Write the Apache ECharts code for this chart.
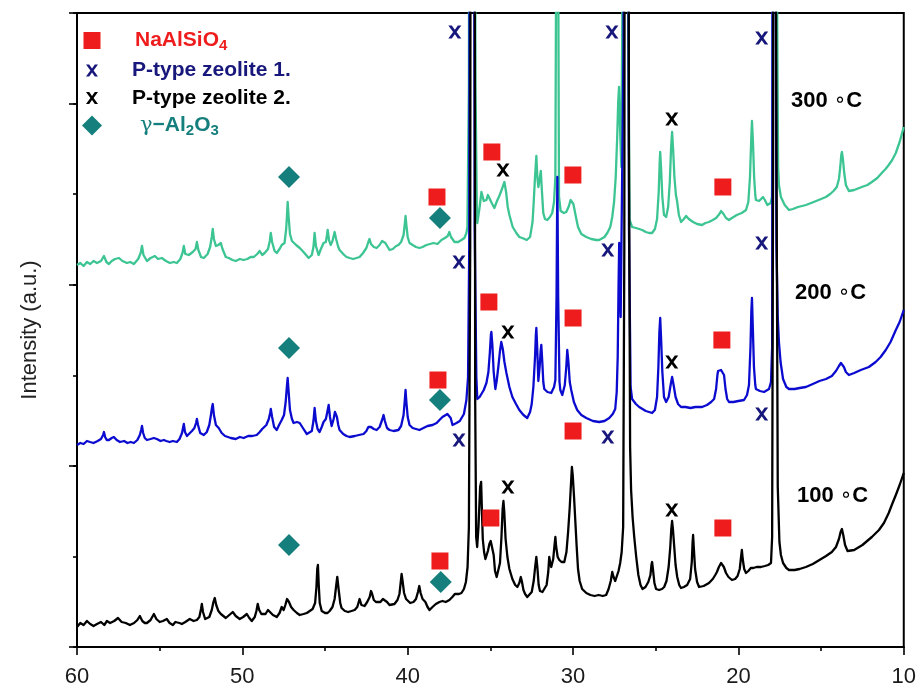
<!DOCTYPE html>
<html>
<head>
<meta charset="utf-8">
<script src="https://cdn.jsdelivr.net/npm/echarts@6/dist/echarts.min.js"></script>
<style>
  html, body { margin: 0; padding: 0; background: #fff; }
  #chart { width: 919px; height: 689px; }
</style>
</head>
<body>
<div id="chart"></div>
<script>
// XRD patterns: [2θ (deg), intensity (a.u.)]
const trace300 = [
  [60.00,382],[59.80,384],[59.60,381],[59.40,385],[59.20,383],[59.00,386],[58.79,384],[58.55,386],
  [58.37,391],[58.22,385],[58.07,383],[57.90,386],[57.70,388],[57.46,389],[57.25,386],[56.98,384],
  [56.78,385],[56.56,383],[56.30,388],[56.15,394],[56.07,401],[55.98,392],[55.77,386],[55.55,389],
  [55.29,391],[55.10,388],[54.87,389],[54.62,386],[54.38,384],[54.15,385],[53.96,384],[53.75,388],
  [53.62,394],[53.54,401],[53.45,393],[53.24,392],[53.00,395],[52.83,398],[52.75,405],[52.66,397],
  [52.50,390],[52.33,389],[52.10,393],[51.95,400],[51.85,410],[51.79,418],[51.72,408],[51.60,401],
  [51.45,402],[51.30,404],[51.20,398],[51.00,390],[50.82,389],[50.60,387],[50.40,386],[50.15,388],
  [49.92,387],[49.70,388],[49.50,390],[49.31,390],[49.10,393],[48.95,396],[48.80,392],[48.65,394],
  [48.45,398],[48.34,406],[48.28,414],[48.20,405],[48.05,396],[47.92,394],[47.75,398],[47.62,402],
  [47.45,404],[47.35,418],[47.30,432],[47.26,445],[47.20,430],[47.12,413],[47.00,406],[46.90,404],
  [46.75,402],[46.53,399],[46.30,395],[45.99,389],[45.80,392],[45.70,400],[45.63,414],[45.55,401],
  [45.39,392],[45.25,398],[45.09,404],[44.95,405],[44.88,412],[44.84,417],[44.76,407],[44.66,402],
  [44.55,406],[44.42,415],[44.33,408],[44.20,400],[44.12,397],[43.90,393],[43.70,390],[43.51,389],
  [43.30,388],[43.10,389],[42.91,390],[42.70,394],[42.50,399],[42.38,405],[42.31,408],[42.22,403],
  [42.05,400],[41.88,399],[41.70,402],[41.55,406],[41.46,408],[41.35,404],[41.10,397],[40.90,398],
  [40.70,401],[40.56,402],[40.40,405],[40.25,412],[40.17,424],[40.13,431],[40.08,422],[40.00,410],
  [39.89,404],[39.70,402],[39.50,400],[39.29,399],[39.10,400],[38.87,402],[38.65,403],[38.44,404],
  [38.20,403],[37.96,407],[37.75,409],[37.58,411],[37.48,415],[37.38,410],[37.17,405],[36.95,405],
  [36.75,407],[36.57,409],[36.45,414],[36.39,420],[36.30,560],[36.22,1500],[36.05,1500],[35.90,560],
  [35.82,440],[35.79,424],[35.65,440],[35.54,455],[35.40,446],[35.24,447],[35.15,452],[35.06,453],
  [34.92,444],[34.76,439],[34.60,446],[34.46,451],[34.30,458],[34.15,465],[34.05,455],[33.95,440],
  [33.85,432],[33.65,420],[33.43,414],[33.25,410],[33.07,409],[32.80,407],[32.60,410],[32.45,425],
  [32.38,445],[32.30,470],[32.22,491],[32.16,470],[32.10,460],[32.02,468],[31.95,476],[31.88,455],
  [31.80,434],[31.70,428],[31.56,427],[31.40,430],[31.26,434],[31.15,445],[31.07,470],[31.02,700],
  [30.96,1500],[30.90,700],[30.85,450],[30.75,436],[30.55,434],[30.41,435],[30.25,441],[30.15,447],
  [30.08,446],[29.98,443],[29.85,432],[29.70,420],[29.50,413],[29.20,410],[28.90,408],[28.60,407],
  [28.42,407],[28.10,410],[27.93,414],[27.75,420],[27.63,430],[27.52,445],[27.42,470],[27.33,510],
  [27.27,545],[27.22,560],[27.16,520],[27.08,480],[27.02,480],[26.92,900],[26.86,1500],[26.74,1500],
  [26.66,600],[26.58,427],[26.43,420],[26.20,419],[26.00,418],[25.82,417],[25.60,415],[25.40,414],
  [25.22,414],[25.05,418],[24.92,428],[24.82,455],[24.76,485],[24.73,495],[24.68,480],[24.60,450],
  [24.50,432],[24.37,430],[24.25,440],[24.15,465],[24.07,500],[24.01,515],[23.95,498],[23.87,470],
  [23.78,452],[23.71,446],[23.60,432],[23.47,425],[23.30,428],[23.16,431],[23.00,428],[22.74,425],
  [22.50,423],[22.20,422],[22.00,424],[21.78,425],[21.55,427],[21.35,429],[21.15,433],[21.05,436],
  [20.99,436],[20.90,433],[20.75,429],[20.57,427],[20.39,429],[20.10,432],[19.80,434],[19.54,437],
  [19.40,445],[19.30,470],[19.22,510],[19.18,526],[19.12,505],[19.05,470],[18.98,452],[18.94,447],
  [18.75,446],[18.51,450],[18.40,447],[18.25,442],[18.15,440],[18.05,444],[17.97,450],[17.90,700],
  [17.85,1500],[17.75,1500],[17.68,700],[17.60,480],[17.55,462],[17.48,455],[17.43,450],[17.20,442],
  [16.94,437],[16.70,438],[16.40,440],[16.15,441],[15.92,442],[15.60,444],[15.30,446],[15.00,448],
  [14.71,450],[14.45,453],[14.25,456],[14.05,460],[13.92,468],[13.84,480],[13.78,492],[13.74,495],
  [13.68,488],[13.60,474],[13.50,462],[13.32,456],[13.00,457],[12.54,460],[12.20,462],[11.93,465],
  [11.60,469],[11.33,474],[11.10,478],[10.91,482],[10.70,487],[10.48,494],[10.25,505],[10.00,520]
];

const trace200 = [
  [60.00,202],[59.80,204],[59.60,203],[59.40,206],[59.21,205],[59.00,204],[58.75,206],[58.55,208],
  [58.42,212],[58.37,215],[58.30,210],[58.20,207],[58.07,207],[57.90,209],[57.77,210],[57.60,207],
  [57.40,205],[57.15,206],[56.95,204],[56.75,205],[56.56,204],[56.35,207],[56.20,212],[56.12,217],
  [56.07,221],[56.00,214],[55.90,209],[55.77,207],[55.55,208],[55.35,209],[55.17,208],[54.95,206],
  [54.75,207],[54.60,206],[54.40,205],[54.20,206],[53.96,205],[53.80,208],[53.65,214],[53.54,223],
  [53.47,215],[53.35,211],[53.24,212],[53.05,216],[52.90,219],[52.80,224],[52.75,228],[52.68,222],
  [52.55,214],[52.33,212],[52.15,215],[52.00,222],[51.90,232],[51.83,240],[51.79,243],[51.72,232],
  [51.60,222],[51.43,219],[51.25,214],[51.05,211],[50.94,210],[50.70,209],[50.40,208],[50.15,210],
  [49.92,209],[49.65,211],[49.40,211],[49.13,212],[48.95,215],[48.80,218],[48.71,219],[48.55,222],
  [48.40,228],[48.32,234],[48.28,238],[48.20,230],[48.08,220],[47.92,217],[47.78,222],[47.62,227],
  [47.48,232],[47.38,245],[47.31,260],[47.26,269],[47.20,255],[47.12,237],[47.00,228],[46.90,224],
  [46.70,225],[46.53,224],[46.30,218],[46.10,213],[45.99,212],[45.80,216],[45.70,226],[45.63,239],
  [45.55,226],[45.45,218],[45.33,215],[45.20,220],[45.09,225],[44.95,228],[44.85,236],[44.78,242],
  [44.70,230],[44.60,221],[44.48,228],[44.40,235],[44.36,237],[44.28,230],[44.20,222],[44.12,217],
  [43.90,213],[43.70,211],[43.51,210],[43.20,211],[42.95,212],[42.67,213],[42.50,216],[42.38,220],
  [42.31,222],[42.22,220],[42.05,218],[41.88,217],[41.70,220],[41.55,227],[41.46,232],[41.38,226],
  [41.25,219],[41.10,217],[40.85,216],[40.56,217],[40.40,221],[40.25,232],[40.17,248],[40.13,257],
  [40.08,245],[40.00,230],[39.89,222],[39.70,219],[39.50,218],[39.29,217],[39.05,219],[38.80,221],
  [38.50,222],[38.25,224],[38.08,227],[37.90,230],[37.78,232],[37.60,233],[37.48,235],[37.40,229],
  [37.29,222],[37.05,224],[36.85,226],[36.75,227],[36.60,233],[36.45,247],[36.35,270],[36.28,400],
  [36.20,1500],[36.05,1500],[35.95,420],[35.85,270],[35.79,248],[35.65,250],[35.54,252],[35.40,257],
  [35.24,264],[35.12,275],[35.03,295],[34.97,312],[34.94,315],[34.88,302],[34.80,275],[34.70,258],
  [34.62,266],[34.52,280],[34.42,296],[34.34,305],[34.25,298],[34.15,285],[34.03,274],[33.85,260],
  [33.67,250],[33.45,243],[33.25,237],[33.00,232],[32.77,229],[32.60,235],[32.50,243],[32.40,260],
  [32.30,290],[32.25,312],[32.22,319],[32.17,300],[32.10,266],[32.02,280],[31.96,296],[31.92,302],
  [31.86,285],[31.80,265],[31.74,258],[31.55,255],[31.32,254],[31.15,260],[31.07,267],[31.00,350],
  [30.95,470],[30.90,350],[30.82,265],[30.77,257],[30.65,252],[30.50,262],[30.41,280],[30.35,297],
  [30.28,285],[30.20,265],[30.11,257],[29.95,245],[29.75,237],[29.50,232],[29.20,229],[28.80,226],
  [28.42,225],[28.10,226],[27.81,229],[27.60,233],[27.45,238],[27.36,255],[27.30,290],[27.25,360],
  [27.21,404],[27.17,370],[27.12,330],[27.05,330],[26.95,600],[26.88,1500],[26.73,1500],[26.62,420],
  [26.52,260],[26.43,248],[26.20,243],[26.00,240],[25.80,238],[25.60,236],[25.40,235],[25.22,234],
  [25.05,237],[24.92,250],[24.84,280],[24.78,315],[24.73,329],[24.68,310],[24.60,275],[24.50,250],
  [24.37,245],[24.22,250],[24.10,262],[24.01,270],[23.92,262],[23.80,250],[23.65,243],[23.47,240],
  [23.20,240],[22.90,239],[22.60,240],[22.20,240],[21.90,242],[21.65,245],[21.47,248],[21.35,258],
  [21.27,272],[21.23,276],[21.15,274],[21.05,277],[20.95,276],[20.87,272],[20.78,258],[20.68,248],
  [20.57,245],[20.30,245],[20.00,246],[19.66,247],[19.48,252],[19.36,262],[19.27,300],[19.22,335],
  [19.18,349],[19.13,320],[19.06,280],[18.98,262],[18.94,258],[18.70,256],[18.45,255],[18.33,255],
  [18.15,258],[18.03,265],[17.96,300],[17.90,1500],[17.78,1500],[17.70,400],[17.62,330],[17.55,305],
  [17.45,285],[17.30,268],[17.10,260],[16.94,258],[16.60,258],[16.30,259],[15.92,260],[15.50,263],
  [15.10,266],[14.70,268],[14.35,271],[14.10,276],[13.92,281],[13.80,284],[13.74,284],[13.62,280],
  [13.50,275],[13.32,272],[13.00,274],[12.60,277],[12.11,280],[11.70,285],[11.40,290],[11.09,297],
  [10.80,305],[10.48,317],[10.25,325],[10.00,337]
];

const trace100 = [
  [60.00,20],[59.80,24],[59.60,22],[59.40,26],[59.20,23],[59.00,21],[58.79,23],[58.55,25],
  [58.35,22],[58.19,26],[58.00,24],[57.75,26],[57.52,29],[57.30,25],[57.05,24],[56.80,22],
  [56.55,24],[56.35,27],[56.20,31],[56.05,26],[55.90,24],[55.77,24],[55.55,27],[55.35,33],
  [55.20,28],[55.00,25],[54.80,26],[54.57,28],[54.40,24],[54.20,22],[54.05,25],[53.96,27],
  [53.80,24],[53.66,23],[53.45,25],[53.18,28],[52.95,26],[52.75,27],[52.60,30],[52.50,38],
  [52.45,43],[52.38,35],[52.25,28],[52.15,27],[52.00,30],[51.85,37],[51.75,45],[51.67,49],
  [51.58,42],[51.45,36],[51.30,33],[51.18,32],[51.00,29],[50.88,30],[50.72,33],[50.58,35],
  [50.40,31],[50.16,28],[49.95,30],[49.73,33],[49.58,29],[49.43,26],[49.25,30],[49.15,36],
  [49.07,43],[48.98,37],[48.85,33],[48.77,35],[48.60,33],[48.45,37],[48.35,36],[48.15,32],
  [47.92,30],[47.75,34],[47.62,40],[47.50,37],[47.40,42],[47.30,48],[47.26,50],[47.18,45],
  [47.05,40],[46.90,37],[46.70,34],[46.53,32],[46.30,33],[46.10,34],[45.99,35],[45.75,38],
  [45.60,44],[45.52,60],[45.47,78],[45.43,82],[45.38,62],[45.32,44],[45.20,36],[45.00,34],
  [44.85,34],[44.72,36],[44.55,40],[44.42,48],[44.32,62],[44.26,70],[44.18,58],[44.08,44],
  [44.00,39],[43.80,36],[43.60,35],[43.40,36],[43.21,37],[43.05,40],[42.91,48],[42.80,42],
  [42.70,40],[42.61,41],[42.45,45],[42.30,50],[42.22,56],[42.15,53],[42.05,47],[41.92,45],
  [41.82,44],[41.65,45],[41.50,48],[41.40,48],[41.25,45],[41.10,42],[40.98,40],[40.80,43],
  [40.62,47],[40.50,53],[40.42,65],[40.37,73],[40.31,66],[40.22,54],[40.10,48],[40.01,47],
  [39.85,44],[39.65,45],[39.50,48],[39.38,55],[39.30,61],[39.22,54],[39.10,48],[38.93,45],
  [38.80,40],[38.68,37],[38.50,40],[38.30,43],[38.08,45],[37.90,46],[37.70,45],[37.48,47],
  [37.30,50],[37.15,53],[37.05,52],[36.90,53],[36.75,54],[36.60,58],[36.48,65],[36.38,80],
  [36.30,120],[36.22,400],[36.16,1500],[35.98,1500],[35.92,250],[35.86,110],[35.80,100],[35.72,120],
  [35.62,160],[35.56,165],[35.50,130],[35.46,108],[35.38,95],[35.30,88],[35.24,90],[35.15,96],
  [35.06,103],[34.98,106],[34.88,107],[34.80,92],[34.72,76],[34.62,70],[34.52,70],[34.42,84],
  [34.33,110],[34.26,138],[34.21,146],[34.16,135],[34.08,108],[33.97,90],[33.85,78],[33.67,68],
  [33.50,62],[33.37,60],[33.25,64],[33.16,70],[33.10,66],[33.00,57],[32.90,53],[32.77,50],
  [32.65,50],[32.50,55],[32.38,66],[32.28,82],[32.22,90],[32.16,80],[32.08,62],[32.00,56],
  [31.85,55],[31.74,57],[31.60,62],[31.50,75],[31.44,90],[31.38,84],[31.32,80],[31.20,88],
  [31.12,102],[31.07,110],[31.02,100],[30.93,90],[30.83,87],[30.70,85],[30.53,85],[30.40,95],
  [30.30,115],[30.20,140],[30.12,165],[30.07,180],[30.02,172],[29.94,150],[29.86,125],[29.78,100],
  [29.70,78],[29.60,66],[29.45,58],[29.20,54],[28.95,52],[28.70,51],[28.45,52],[28.20,51],
  [28.00,52],[27.85,58],[27.72,66],[27.63,75],[27.55,70],[27.45,66],[27.35,68],[27.25,76],
  [27.15,84],[27.06,95],[26.97,120],[26.90,400],[26.84,1500],[26.70,1500],[26.62,500],[26.55,200],
  [26.49,157],[26.40,130],[26.30,110],[26.18,90],[26.05,72],[25.92,62],[25.80,58],[25.62,60],
  [25.45,65],[25.32,72],[25.26,82],[25.22,85],[25.17,78],[25.08,64],[24.98,58],[24.80,57],
  [24.62,58],[24.49,60],[24.35,66],[24.22,80],[24.12,100],[24.06,118],[24.01,126],[23.96,118],
  [23.88,100],[23.80,82],[23.70,70],[23.58,62],[23.47,59],[23.30,60],[23.10,62],[22.92,68],
  [22.82,85],[22.77,105],[22.74,112],[22.70,100],[22.62,78],[22.50,65],[22.38,60],[22.10,61],
  [21.78,64],[21.55,68],[21.40,72],[21.30,75],[21.18,80],[21.05,84],[20.98,84],[20.88,80],
  [20.75,74],[20.60,70],[20.39,67],[20.20,68],[20.05,71],[19.92,78],[19.84,90],[19.79,97],
  [19.74,88],[19.65,78],[19.54,74],[19.40,76],[19.25,79],[19.10,79],[18.90,80],[18.64,80],
  [18.40,81],[18.20,82],[18.03,84],[17.96,110],[17.90,500],[17.86,1500],[17.74,1500],[17.70,500],
  [17.62,160],[17.52,105],[17.43,92],[17.30,84],[17.10,79],[16.94,77],[16.60,77],[16.30,78],
  [15.92,80],[15.50,83],[15.10,87],[14.70,91],[14.35,95],[14.10,100],[13.92,108],[13.82,115],
  [13.74,118],[13.66,112],[13.55,102],[13.40,96],[13.32,95],[13.00,97],[12.50,102],[11.93,110],
  [11.50,117],[11.20,124],[10.91,134],[10.70,143],[10.48,152],[10.25,162],[10.00,174]
];

// Phase markers placed above the reflections: [2θ, height]
const naAlSiO4Marks = [
  [38.23,450],[34.91,495],[30.01,472],[20.94,460],
  [38.17,267],[35.09,345],[30.00,329],[21.00,307],
  [38.05,86],[34.97,129],[30.00,216],[20.94,119]
];
const zeolite1Marks = [
  [37.15,615],[27.65,615],[18.59,609],
  [36.90,385],[27.90,397],[18.59,404],
  [36.90,207],[27.90,210],[18.59,233]
];
const zeolite2Marks = [
  [34.24,477],[24.03,528],
  [33.94,315],[24.03,285],
  [33.94,160],[24.03,137]
];
const aluminaMarks = [
  [47.18,470],[38.05,429],
  [47.18,299],[38.05,247],
  [47.18,102],[38.00,65]
];

const phaseNames = ['NaAlSiO4', 'P-type zeolite 1.', 'P-type zeolite 2.', 'γ-Al2O3'];
const tempNames = ['300', '200', '100'];

const FONT = '"Liberation Sans", Arial, Helvetica, sans-serif';
const COL_T300 = '#3cc592';
const COL_T200 = '#0b0bd0';
const COL_T100 = '#000000';
const COL_RED = '#ee1c1c';
const COL_NAVY = '#17177c';
const COL_TEAL = '#147f7c';

const crossPath = 'path://M0,0H3.2L6,3.9L8.8,0H12L7.6,6L12,12H8.8L6,8.1L3.2,12H0L4.4,6Z';
const crossIcon = 'path://M-4,-4M0,0H3.2L6,3.9L8.8,0H12L7.6,6L12,12H8.8L6,8.1L3.2,12H0L4.4,6ZM16,16';
const squareIcon = 'path://M-1.5,-1.5M0,0H17V17H0ZM18.5,18.5';

const Y_MAX = 634;

const chart = echarts.init(document.getElementById('chart'), null, { renderer: 'canvas' });

function lineSeries(name, data, color, z) {
  return {
    name: name, type: 'line', data: data, showSymbol: false, symbol: 'none',
    clip: true, z: z, silent: true,
    lineStyle: { color: color, width: 2.3, join: 'round' },
    animation: false
  };
}

function markSeries(name, data, symbol, size, color) {
  return {
    name: name, type: 'scatter', data: data, symbol: symbol, symbolSize: size,
    itemStyle: { color: color, opacity: 1 }, z: 10, silent: true, animation: false
  };
}

const sub = (c) => ({ color: c, fontSize: 15, fontWeight: 'bold', fontFamily: FONT, lineHeight: 26, verticalAlign: 'bottom' });
const main = (c) => ({ color: c, fontSize: 21, fontWeight: 'bold', fontFamily: FONT, lineHeight: 26 });

const legendLabels = {
  'NaAlSiO4': '{g1| }{r|NaAlSiO}{rs|4}',
  'P-type zeolite 1.': '{g2| }{n|P-type zeolite 1.}',
  'P-type zeolite 2.': '{g2| }{k|P-type zeolite 2.}',
  'γ-Al2O3': '{g3| }{tg|γ}{t|−Al}{ts|2}{t|O}{ts|3}'
};

function tempText(t, color) {
  return {
    text: '{a|' + t + ' }{d|∘}{a|C}',
    rich: {
      a: { color: color, fontSize: 22, fontWeight: 'bold', fontFamily: FONT },
      d: { color: color, fontSize: 20, fontWeight: 'normal', fontFamily: '"DejaVu Sans", sans-serif' }
    },
    verticalAlign: 'middle'
  };
}

const option = {
  backgroundColor: '#ffffff',
  animation: false,
  grid: {
    left: 77, right: 14, top: 13, bottom: 42,
    show: true, borderColor: '#000', borderWidth: 2, backgroundColor: 'transparent'
  },
  xAxis: {
    type: 'value', inverse: true, min: 10, max: 60, interval: 10,
    axisLine: { show: true, onZero: false, lineStyle: { color: '#000', width: 2 } },
    axisTick: { show: true, length: 8, lineStyle: { color: '#000', width: 1.6 } },
    minorTick: { show: true, splitNumber: 2, length: 4, lineStyle: { color: '#000', width: 1.6 } },
    axisLabel: { fontSize: 22, color: '#1a1a1a', margin: 19, fontFamily: FONT },
    splitLine: { show: false }
  },
  yAxis: [
    {
      type: 'value', min: 0, max: Y_MAX, interval: Y_MAX / 7,
      name: 'Intensity (a.u.)', nameLocation: 'middle', nameGap: 36,
      nameTextStyle: { fontSize: 22, color: '#222', fontFamily: FONT },
      axisLine: { show: true, onZero: false, lineStyle: { color: '#000', width: 2 } },
      axisTick: { show: true, length: 4, lineStyle: { color: '#000', width: 1.6 } },
      axisLabel: { show: false },
      splitLine: { show: false }
    },
    {
      type: 'value', min: 0, max: Y_MAX, interval: Y_MAX / 3.5, position: 'left',
      axisLine: { show: false },
      axisTick: { show: true, length: 8, lineStyle: { color: '#000', width: 1.6 } },
      axisLabel: { show: false },
      splitLine: { show: false }
    }
  ],
  legend: {
    orient: 'vertical', left: 77, top: 25, itemWidth: 20, itemHeight: 20, itemGap: 6.5,
    selectedMode: false,
    data: [
      { name: phaseNames[0], icon: squareIcon },
      { name: phaseNames[1], icon: crossIcon },
      { name: phaseNames[2], icon: crossIcon },
      { name: phaseNames[3], icon: 'diamond' }
    ],
    formatter: (name) => legendLabels[name],
    textStyle: {
      fontFamily: FONT,
      rich: {
        g1: { width: 28, lineHeight: 26 }, g2: { width: 25, lineHeight: 26 }, g3: { width: 33, lineHeight: 26 },
        r: main(COL_RED), rs: sub(COL_RED),
        n: main(COL_NAVY), k: main('#000'),
        tg: { color: COL_TEAL, fontSize: 21, fontWeight: 'normal', fontFamily: '"DejaVu Serif", serif', lineHeight: 26 },
        t: main(COL_TEAL), ts: sub(COL_TEAL)
      }
    }
  },
  graphic: [
    { type: 'text', x: 791, y: 101, style: tempText(tempNames[0], '#52aa82'), z: 20 },
    { type: 'text', x: 795, y: 293, style: tempText(tempNames[1], '#1010b4'), z: 20 },
    { type: 'text', x: 797, y: 496, style: tempText(tempNames[2], '#000'), z: 20 }
  ],
  series: [
    lineSeries('300 °C', trace300, COL_T300, 2),
    lineSeries('200 °C', trace200, COL_T200, 3),
    lineSeries('100 °C', trace100, COL_T100, 4),
    markSeries(phaseNames[0], naAlSiO4Marks, 'rect', 17, COL_RED),
    markSeries(phaseNames[1], zeolite1Marks, crossPath, [13, 13], COL_NAVY),
    markSeries(phaseNames[2], zeolite2Marks, crossPath, [13, 13], '#000'),
    markSeries(phaseNames[3], aluminaMarks, 'diamond', 22, COL_TEAL)
  ]
};

chart.setOption(option);
</script>
</body>
</html>
